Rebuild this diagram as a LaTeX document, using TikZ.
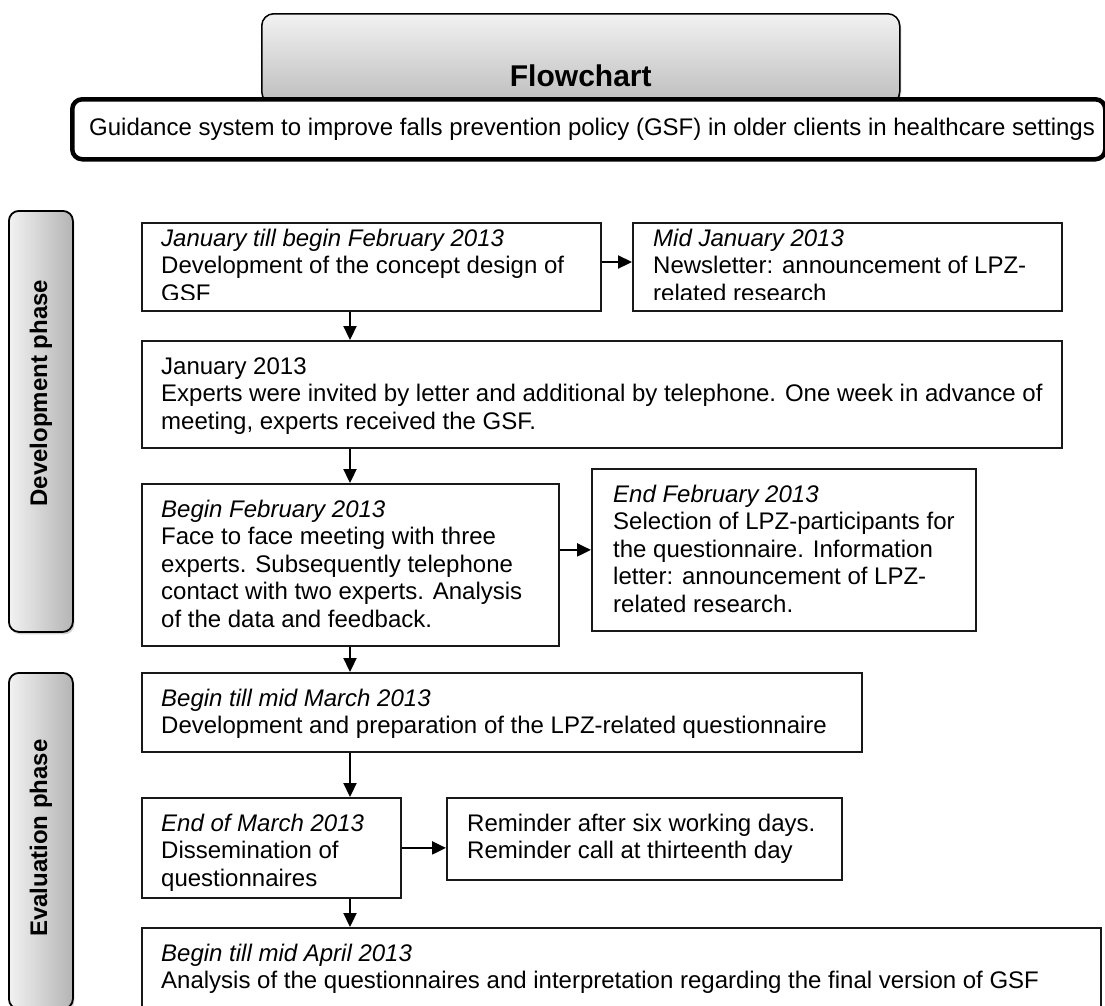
\documentclass[tikz,border=0pt]{standalone}
\usepackage{fontspec}
\setmainfont{Liberation Sans}
\usetikzlibrary{arrows.meta,shadows,calc}
\newcommand{\fs}{\fontsize{24}{27.5}\selectfont}
\newcommand{\fbold}{\fontsize{24}{27.5}\selectfont\bfseries}
\newcommand{\ftitle}{\fontsize{30}{34}\selectfont\bfseries}
\newcommand{\stt}{\rule{0pt}{19pt}}
\definecolor{tabl}{HTML}{F2F2F2}
\definecolor{tabr}{HTML}{B4B4B4}
\definecolor{fctop}{HTML}{F2F2F2}
\definecolor{fcbot}{HTML}{BDBDBD}
\begin{document}
\begin{tikzpicture}[x=1pt,y=1pt,
  bx/.style={draw=black!90, line width=1.8pt, fill=white, anchor=north west, inner sep=0pt},
  txt/.style={anchor=north west, inner sep=0pt, align=left, font=\fs},
  arr/.style={line width=2.2pt, -{Triangle[length=14pt,width=13pt]}},
  tabbox/.style={draw=black, line width=1.8pt, rounded corners=10pt, left color=tabl, right color=tabr,
     anchor=north west, inner sep=0pt, minimum width=64pt,
     drop shadow={shadow xshift=1.5pt, shadow yshift=-2.5pt, fill=black!40, opacity=0.45}},
  tablabel/.style={rotate=90, font=\fbold, inner sep=0pt}
]
\useasboundingbox (0,0) rectangle (1105,-1005);
\clip (0,0) rectangle (1105,-1005);

% title
\node[draw=black, line width=1.5pt, rounded corners=12pt, top color=fctop, bottom color=fcbot,
      anchor=north west, inner sep=0pt, minimum width=638pt, minimum height=90pt,
      drop shadow={shadow xshift=1.5pt, shadow yshift=-2pt, fill=black!40, opacity=0.4}] (fc) at (261,-13) {};
\node[font=\ftitle, inner sep=0pt] (fct) at ($(fc.north)+(0,-63)$) {Flowchart};

% guidance
\node[draw=black, line width=4.5pt, rounded corners=10pt, fill=white, anchor=north west,
      inner sep=0pt, minimum width=1033pt, minimum height=60pt] (gd) at (70,-97) {};
\node[font=\fs, anchor=west, inner sep=0pt] (gdt) at ($(gd.west)+(19,0)$) {Guidance system to improve falls prevention policy (GSF) in older clients in healthcare settings};

% phase tabs
\node[tabbox, minimum height=421pt] (dev) at (8,-210) {};
\node[tablabel] (devt) at ($(dev.north)+(0,-183)$) {Development phase};
\node[tabbox, minimum height=336pt] (eva) at (8,-672) {};
\node[tablabel] (evat) at ($(eva.north)+(0,-166)$) {Evaluation phase};

% boxes
\node[bx, minimum width=459pt, minimum height=88pt] (b1) at (141,-222) {};
\node[bx, minimum width=429pt, minimum height=88pt] (b2) at (632,-222) {};
\node[bx, minimum width=920pt, minimum height=107pt] (b3) at (141,-340) {};
\node[bx, minimum width=417pt, minimum height=162pt] (b4) at (141,-483) {};
\node[bx, minimum width=384pt, minimum height=162pt] (b5) at (591,-468) {};
\node[bx, minimum width=720pt, minimum height=79pt] (b6) at (141,-672) {};
\node[bx, minimum width=259pt, minimum height=100pt] (b7) at (141,-797) {};
\node[bx, minimum width=395pt, minimum height=82pt] (b8) at (446,-797) {};
\node[bx, minimum width=959pt, minimum height=90pt] (b9) at (141,-927) {};

\begin{scope}
\clip ($(b1.north west)+(0.9,-0.9)$) rectangle ($(b1.south east)+(-0.9,12.5)$);
\node[txt] (b1t) at ($(b1.north west)+(20,-5)$) {\stt\textit{January till begin February 2013}\\Development of the concept design of\\GSF};
\end{scope}
\begin{scope}
\clip ($(b2.north west)+(0.9,-0.9)$) rectangle ($(b2.south east)+(-0.9,12.5)$);
\node[txt] (b2t) at ($(b2.north west)+(21,-5)$) {\stt\textit{Mid January 2013}\\Newsletter: announcement of LPZ-\\related research};
\end{scope}
\node[txt] (b3t) at ($(b3.north west)+(20,-15)$) {\stt January 2013\\Experts were invited by letter and additional by telephone. One week in advance of\\meeting, experts received the GSF.};
\node[txt] (b4t) at ($(b4.north west)+(20,-15)$) {\stt\textit{Begin February 2013}\\Face to face meeting with three\\experts. Subsequently telephone\\contact with two experts. Analysis\\of the data and feedback.};
\node[txt] (b5t) at ($(b5.north west)+(22,-15)$) {\stt\textit{End February 2013}\\Selection of LPZ-participants for\\the questionnaire. Information\\letter: announcement of LPZ-\\related research.};
\node[txt] (b6t) at ($(b6.north west)+(20,-15)$) {\stt\textit{Begin till mid March 2013}\\Development and preparation of the LPZ-related questionnaire};
\node[txt] (b7t) at ($(b7.north west)+(20,-15)$) {\stt\textit{End of March 2013}\\Dissemination of\\questionnaires};
\node[txt] (b8t) at ($(b8.north west)+(21,-15)$) {\stt Reminder after six working days.\\Reminder call at thirteenth day};
\node[txt] (b9t) at ($(b9.north west)+(20,-15)$) {\stt\textit{Begin till mid April 2013}\\Analysis of the questionnaires and interpretation regarding the final version of GSF};

% connectors
\coordinate (ax) at (350,0);
\coordinate (ay) at (0,-262);
\draw[arr] (b1.east |- ay) -- (b2.west |- ay);
\draw[arr] (b1.south -| ax) -- (b3.north -| ax);
\draw[arr] (b3.south -| ax) -- (b4.north -| ax);
\draw[arr] (b4.east |- b5.west) -- (b5.west);
\draw[arr] (b4.south -| ax) -- (b6.north -| ax);
\draw[arr] (b6.south -| ax) -- (b7.north -| ax);
\draw[arr] (b7.east) -- (b8.west |- b7.east);
\draw[arr] (b7.south -| ax) -- (b9.north -| ax);
\end{tikzpicture}
\end{document}
